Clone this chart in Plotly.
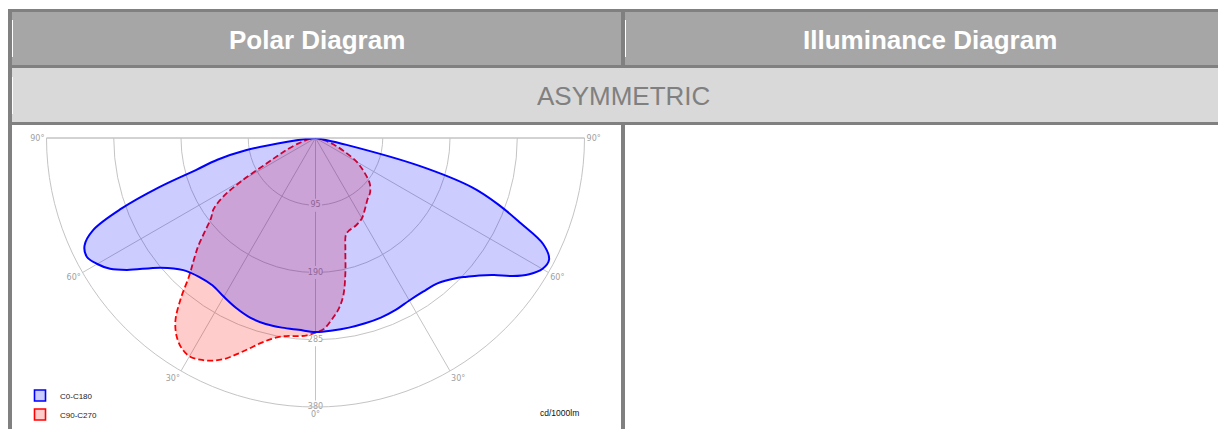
import plotly.graph_objects as go

# the page body adds an 8px margin at the top/left; the figure fills the rest of the window
OFF = 8
W, H = 1226 - OFF, 429 - OFF

# ---------------- data ----------------
# C0-C180 plane: angle (deg, 0 = nadir, negative = left) and intensity (cd/1000lm)
c0_theta = [-90, -85, -82.5, -80, -77.5, -75, -72.5, -70, -67.5, -65, -62.5, -60,
            -57.5, -55, -50, -45, -40, -35, -30, -25, -20, -15, -10, -5, 0,
            5, 10, 15, 20, 25, 30, 35, 40, 45, 47.5, 50, 52.5, 55, 57.5, 60,
            62.5, 65, 67.5, 70, 72.5, 75, 77.5, 80, 85, 90]
c0_r = [0, 8, 40, 100, 142, 175, 232, 292, 340, 360, 364, 356,
        344, 325, 285, 264, 256, 254, 259, 265, 270, 272, 272, 272, 274,
        273, 272, 271, 270, 268, 265, 265, 268, 280, 290, 302, 318, 340, 358, 370,
        372, 355, 313, 275, 232, 151, 45, 8, 2, 0]

# C90-C270 plane
c90_theta = [-90, -80, -72.5, -67.5, -65, -62.5, -60, -57.5, -55, -52.5, -50, -47.5,
             -45, -42.5, -40, -37.5, -35, -32.5, -30, -27.5, -25, -22.5, -20, -17.5,
             -15, -12.5, -10, -7.5, -5, -2.5, 0, 2.5, 5, 7.5, 10, 12.5, 15, 17.5,
             20, 25, 30, 35, 40, 45, 50, 55, 60, 65, 70, 75, 80, 90]
c90_r = [0, 8, 25, 45, 58, 78, 118, 155, 176, 186, 203, 224,
         243, 264, 296, 325, 342, 352, 356, 353, 347, 338, 325, 312,
         300, 291, 285, 282, 281, 279, 275, 270, 258, 245, 226, 195, 163, 143,
         139, 136, 131, 122, 114, 109, 100, 84, 67, 45, 28, 15, 6, 0]

ring_values = [95, 190, 285, 380]
ring_labels = ["95", "190", "285", "380"]
# angular axis runs 270..450 for this half-plane sector (i.e. -90..90 deg)
angle_tickvals = [270, 300, 330, 360, 390, 420, 450]
angle_ticktext = ["90°", "60°", "30°", "0°", "30°", "60°", "90°"]

series_names = ["C0-C180", "C90-C270"]
header_left = "Polar Diagram"
header_right = "Illuminance Diagram"
subheader = "ASYMMETRIC"
unit_label = "cd/1000lm"

# ---------------- helpers for layout positions (reference pixel -> paper) ----------------
def px(x):
    return (x - OFF) / W

def py(y):
    return 1 - (y - OFF) / H

GRID = "#c4c4c4"
BORDER = "#808080"
BLUE, RED = "#0000ff", "#ff0000"
BLUE_FILL, RED_FILL = "rgba(0,0,255,0.2)", "rgba(255,0,0,0.2)"

fig = go.Figure()

# radial value labels along the 0° line (drawn first so the fills sit over them)
fig.add_trace(go.Scatterpolar(
    r=ring_values, theta=[0] * len(ring_values), mode="markers+text",
    text=ring_labels, textposition="middle center",
    marker=dict(symbol="square", size=13, color="white"),
    textfont=dict(family="DejaVu Sans", size=8, color="#a0a0a0"),
    showlegend=False, hoverinfo="skip", cliponaxis=False))

fig.add_trace(go.Scatterpolar(
    r=c90_r, theta=c90_theta, name=series_names[1], mode="lines",
    line=dict(color=RED, width=1.8, dash="6px,3px", shape="spline"),
    fill="toself", fillcolor=RED_FILL, showlegend=False, legendgroup="c90"))

fig.add_trace(go.Scatterpolar(
    r=c0_r, theta=c0_theta, name=series_names[0], mode="lines",
    line=dict(color=BLUE, width=2, shape="spline"),
    fill="toself", fillcolor=BLUE_FILL, showlegend=False, legendgroup="c0"))

# legend entries (square swatches like the reference)
for name, col, fillc, grp in [(series_names[0], BLUE, BLUE_FILL, "c0"),
                              (series_names[1], RED, RED_FILL, "c90")]:
    fig.add_trace(go.Scatterpolar(
        r=[None], theta=[None], mode="markers", name=name, legendgroup=grp,
        marker=dict(symbol="square", size=11, color=fillc, line=dict(color=col, width=1.6)),
        hoverinfo="skip"))

# ---------------- table frame ----------------
shapes = []
def rect(x0, y0, x1, y1, color):
    shapes.append(dict(type="rect", xref="paper", yref="paper",
                       x0=px(x0), x1=px(x1), y0=py(y1), y1=py(y0),
                       fillcolor=color, line=dict(width=0), layer="below"))

rect(12, 12, 1240, 65, "#a6a6a6")      # header row
rect(12, 68, 1240, 122, "#d9d9d9")     # sub header row
rect(8, 9, 1240, 12, BORDER)           # top border
rect(8, 9, 12, 440, BORDER)            # left border
rect(8, 65, 1240, 68, BORDER)
rect(8, 122, 1240, 125, BORDER)
rect(621, 12, 625, 65, BORDER)         # column divider (header)
rect(621, 125, 625, 440, BORDER)       # column divider (content)
rect(12, 20, 13, 57, "white")
rect(625, 20, 626, 57, "white")
rect(12, 77, 13, 114, "white")

sans = "Liberation Sans, Arial"
annotations = [
    dict(text="<b>" + header_left + "</b>", x=px(316.5), y=py(39.5), xref="paper", yref="paper",
         showarrow=False, xanchor="center", yanchor="middle",
         font=dict(family=sans, size=26, color="white")),
    dict(text="<b>" + header_right + "</b>", x=px(929.5), y=py(39.5), xref="paper", yref="paper",
         showarrow=False, xanchor="center", yanchor="middle",
         font=dict(family=sans, size=26, color="white")),
    dict(text=subheader, x=px(623), y=py(95.5), xref="paper", yref="paper",
         showarrow=False, xanchor="center", yanchor="middle",
         font=dict(family=sans, size=26, color="#808080")),
    dict(text=unit_label, x=px(581), y=py(413), xref="paper", yref="paper",
         showarrow=False, xanchor="right", yanchor="middle",
         font=dict(family=sans, size=8.5, color="#111111")),
]

fig.update_layout(
    width=W, height=H, margin=dict(l=0, r=0, t=0, b=0, autoexpand=False),
    paper_bgcolor="white", plot_bgcolor="white",
    shapes=shapes, annotations=annotations,
    polar=dict(
        domain=dict(x=[px(46.5), px(584.5)], y=[py(407), py(138)]),
        sector=[180, 360], bgcolor="white", hole=0,
        angularaxis=dict(rotation=270, direction="counterclockwise",
                         tickmode="array", tickvals=angle_tickvals, ticktext=angle_ticktext,
                         showgrid=True, gridcolor=GRID, gridwidth=1,
                         showline=True, linecolor=GRID, linewidth=1, ticks="",
                         tickfont=dict(family="DejaVu Sans", size=8, color="#a0a0a0")),
        radialaxis=dict(range=[0, 380], tickmode="array", tickvals=ring_values,
                        showticklabels=False, ticks="", showline=False,
                        gridcolor=GRID, gridwidth=1, angle=270),
    ),
    legend=dict(x=px(20), y=py(381), xanchor="left", yanchor="top",
                bgcolor="rgba(0,0,0,0)", itemwidth=30, tracegroupgap=0,
                font=dict(family=sans, size=8, color="#222222")),
    showlegend=True,
)

fig.write_html("out.html")
